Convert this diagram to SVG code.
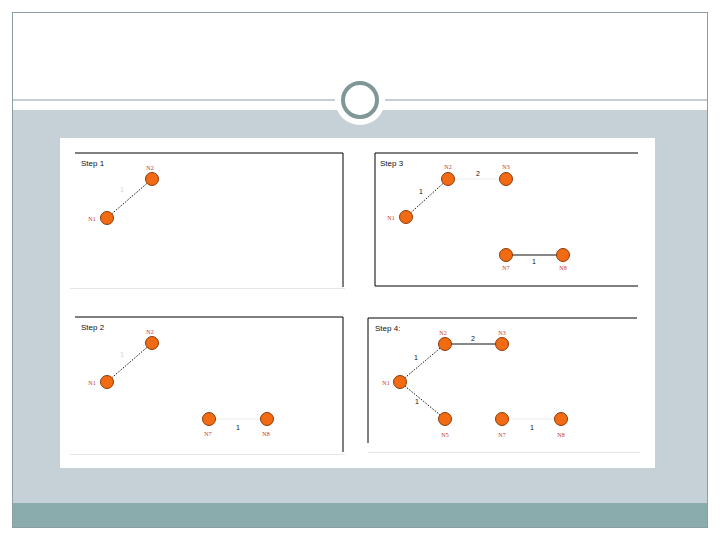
<svg xmlns="http://www.w3.org/2000/svg" width="720" height="540" viewBox="0 0 720 540">
<style>
.frame{fill:none;stroke:#8a9ea3;stroke-width:1}
.panel{fill:none;stroke:#000;stroke-width:1}
.faintline{stroke:#e6e6e6;stroke-width:1}
.node{fill:#f26a12;stroke:#8a3a08;stroke-width:1}
.nl{font-family:"Liberation Serif",serif;font-size:6px;fill:#c0392b;text-anchor:middle}
.step{font-family:"Liberation Sans",sans-serif;font-size:8px;fill:#111}
.el{font-family:"Liberation Sans",sans-serif;font-size:7px;fill:#111;text-anchor:middle}
.elf{font-family:"Liberation Sans",sans-serif;font-size:7px;fill:#d6d6d6;text-anchor:middle}
.dot{stroke:#111;stroke-width:1;stroke-dasharray:1.5 1.5}
.solid{stroke:#111;stroke-width:1.2}
.faint{stroke:#ececec;stroke-width:1}
</style>
<rect x="0" y="0" width="720" height="540" fill="#fff"/>
<g id="slide">
<rect x="12" y="110" width="696" height="393" fill="#c5d1d6"/>
<rect x="12" y="503" width="696" height="24" fill="#8aacac"/>
<rect x="12.5" y="12.5" width="695" height="515" class="frame"/>
<line x1="12" y1="100" x2="708" y2="100" stroke="#8a9ea3" stroke-width="1"/>
<circle cx="360" cy="100" r="25" fill="#fff"/>
<circle cx="360" cy="100" r="17" fill="#fff" stroke="#7f9797" stroke-width="4"/>
<rect x="60" y="138" width="595" height="330" fill="#fff"/>
</g>
<g id="panels">
<polyline points="75,153 343,153 343,287" class="panel"/>
<line x1="70" y1="288.5" x2="345" y2="288.5" class="faintline"/>
<polyline points="638,153 375,153 375,286 638,286" class="panel"/>
<polyline points="75,317 343,317 343,452" class="panel"/>
<line x1="70" y1="454.5" x2="345" y2="454.5" class="faintline"/>
<polyline points="637,318 368,318 368,443" class="panel"/>
<line x1="368" y1="452.5" x2="640" y2="452.5" class="faintline"/>
<text x="81" y="166" class="step">Step 1</text>
<text x="380" y="166" class="step">Step 3</text>
<text x="81" y="330" class="step">Step 2</text>
<text x="375" y="331" class="step">Step 4:</text>
</g>
<g id="connectors">
<line x1="107" y1="218" x2="152" y2="179" class="dot"/>
<text x="122" y="192" class="elf">1</text>
<line x1="406" y1="217" x2="448" y2="179" class="dot"/>
<text x="421" y="194" class="el">1</text>
<line x1="448" y1="179" x2="506" y2="179" class="faint"/>
<text x="478" y="176" class="el">2</text>
<line x1="506" y1="255" x2="563" y2="255" class="solid"/>
<text x="534" y="264" class="el">1</text>
<line x1="107" y1="382" x2="152" y2="343" class="dot"/>
<text x="122" y="357" class="elf">1</text>
<line x1="209" y1="419" x2="267" y2="419" class="faint"/>
<text x="238" y="430" class="el">1</text>
<line x1="400" y1="382" x2="445" y2="344" class="dot"/>
<text x="416" y="360" class="el">1</text>
<line x1="445" y1="344" x2="502" y2="344" class="solid"/>
<text x="473" y="341" class="el">2</text>
<line x1="400" y1="382" x2="445" y2="419" class="dot"/>
<text x="417" y="404" class="el">1</text>
<line x1="502" y1="419" x2="561" y2="419" class="faint"/>
<text x="532" y="430" class="el">1</text>
</g>
<g id="p1-n1"><circle cx="107" cy="218" r="6.5" class="node"/><text x="92" y="221" class="nl">N1</text></g>
<g id="p1-n2"><circle cx="152" cy="179" r="6.5" class="node"/><text x="150" y="170" class="nl">N2</text></g>
<g id="p3-n1"><circle cx="406" cy="217" r="6.5" class="node"/><text x="391" y="220" class="nl">N1</text></g>
<g id="p3-n2"><circle cx="448" cy="179" r="6.5" class="node"/><text x="448" y="169" class="nl">N2</text></g>
<g id="p3-n3"><circle cx="506" cy="179" r="6.5" class="node"/><text x="506" y="169" class="nl">N3</text></g>
<g id="p3-n7"><circle cx="506" cy="255" r="6.5" class="node"/><text x="506" y="270" class="nl">N7</text></g>
<g id="p3-n8"><circle cx="563" cy="255" r="6.5" class="node"/><text x="563" y="270" class="nl">N8</text></g>
<g id="p2-n1"><circle cx="107" cy="382" r="6.5" class="node"/><text x="92" y="385" class="nl">N1</text></g>
<g id="p2-n2"><circle cx="152" cy="343" r="6.5" class="node"/><text x="150" y="334" class="nl">N2</text></g>
<g id="p2-n7"><circle cx="209" cy="419" r="6.5" class="node"/><text x="208" y="436" class="nl">N7</text></g>
<g id="p2-n8"><circle cx="267" cy="419" r="6.5" class="node"/><text x="266" y="436" class="nl">N8</text></g>
<g id="p4-n1"><circle cx="400" cy="382" r="6.5" class="node"/><text x="386" y="385" class="nl">N1</text></g>
<g id="p4-n2"><circle cx="445" cy="344" r="6.5" class="node"/><text x="443" y="335" class="nl">N2</text></g>
<g id="p4-n3"><circle cx="502" cy="344" r="6.5" class="node"/><text x="502" y="335" class="nl">N3</text></g>
<g id="p4-n5"><circle cx="445" cy="419" r="6.5" class="node"/><text x="445" y="437" class="nl">N5</text></g>
<g id="p4-n7"><circle cx="502" cy="419" r="6.5" class="node"/><text x="502" y="437" class="nl">N7</text></g>
<g id="p4-n8"><circle cx="561" cy="419" r="6.5" class="node"/><text x="561" y="437" class="nl">N8</text></g>
</svg>
